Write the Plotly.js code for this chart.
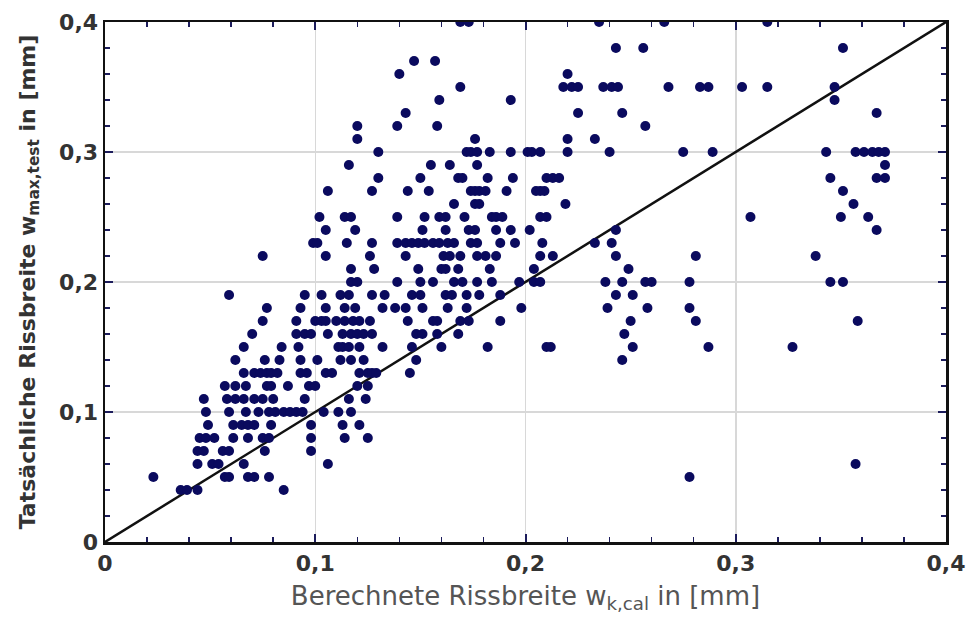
<!DOCTYPE html>
<html>
<head>
<meta charset="utf-8">
<script src="https://cdn.plot.ly/plotly-3.0.1.min.js"></script>
<style>html,body{margin:0;padding:0;background:#fff;}#chart{width:966px;height:625px;}</style>
</head>
<body>
<div id="chart"></div>
<script>
// measured crack width levels (w_max,test, mm) and calculated widths (w_k,cal, mm) at each level
const wLevels = [0.40,0.38,0.37,0.36,0.35,0.34,0.33,0.32,0.31,0.30,0.29,0.28,0.27,0.26,0.25,0.24,0.23,0.22,0.21,0.20,0.19,0.18,0.17,0.16,0.15,0.14,0.13,0.12,0.11,0.10,0.09,0.08,0.07,0.06,0.05,0.04];
const xCal = [
  [0.169,0.173,0.235,0.266,0.315],
  [0.243,0.256,0.351],
  [0.147,0.157],
  [0.140,0.220],
  [0.169,0.218,0.222,0.225,0.237,0.241,0.244,0.268,0.283,0.287,0.303,0.315,0.347],
  [0.159,0.193,0.347],
  [0.143,0.225,0.246,0.367],
  [0.120,0.139,0.158,0.257],
  [0.120,0.176,0.220,0.233],
  [0.130,0.172,0.174,0.177,0.183,0.193,0.201,0.203,0.207,0.220,0.240,0.275,0.289,0.343,0.357,0.361,0.365,0.368,0.371],
  [0.116,0.155,0.164,0.177,0.371],
  [0.130,0.150,0.168,0.170,0.182,0.194,0.210,0.213,0.216,0.345,0.367,0.371],
  [0.106,0.127,0.144,0.154,0.174,0.176,0.178,0.181,0.191,0.205,0.207,0.209,0.351],
  [0.166,0.176,0.178,0.219,0.356],
  [0.102,0.114,0.117,0.139,0.152,0.159,0.162,0.171,0.184,0.186,0.189,0.207,0.210,0.307,0.350,0.363],
  [0.105,0.119,0.151,0.162,0.173,0.176,0.186,0.193,0.202,0.243,0.367],
  [0.099,0.101,0.115,0.127,0.139,0.143,0.146,0.149,0.152,0.156,0.159,0.163,0.166,0.174,0.177,0.188,0.195,0.208,0.233,0.241],
  [0.075,0.105,0.126,0.143,0.161,0.164,0.169,0.177,0.181,0.186,0.207,0.213,0.243,0.281,0.338],
  [0.117,0.128,0.149,0.160,0.162,0.168,0.183,0.204,0.249],
  [0.117,0.120,0.139,0.150,0.156,0.166,0.170,0.177,0.184,0.197,0.204,0.207,0.238,0.246,0.257,0.260,0.278,0.345,0.351],
  [0.059,0.095,0.103,0.112,0.116,0.127,0.133,0.146,0.150,0.162,0.165,0.172,0.178,0.188,0.243,0.251],
  [0.077,0.093,0.105,0.114,0.119,0.132,0.138,0.143,0.151,0.163,0.172,0.198,0.239,0.258,0.278],
  [0.075,0.091,0.100,0.103,0.105,0.110,0.114,0.118,0.121,0.126,0.144,0.156,0.158,0.169,0.173,0.188,0.250,0.281,0.358],
  [0.070,0.091,0.095,0.098,0.106,0.113,0.117,0.120,0.123,0.127,0.148,0.151,0.158,0.168,0.247],
  [0.066,0.084,0.092,0.111,0.113,0.116,0.121,0.132,0.146,0.160,0.182,0.210,0.212,0.251,0.287,0.327],
  [0.062,0.076,0.083,0.093,0.101,0.112,0.117,0.123,0.148,0.246],
  [0.066,0.071,0.074,0.077,0.079,0.082,0.093,0.096,0.105,0.108,0.121,0.125,0.127,0.129,0.145],
  [0.057,0.062,0.067,0.077,0.079,0.087,0.097,0.100,0.120,0.125],
  [0.047,0.058,0.062,0.066,0.071,0.075,0.080,0.095,0.116,0.124],
  [0.048,0.059,0.067,0.073,0.078,0.081,0.085,0.088,0.091,0.094,0.104,0.111,0.117],
  [0.049,0.061,0.065,0.068,0.071,0.079,0.098,0.113,0.121],
  [0.045,0.048,0.052,0.061,0.068,0.075,0.078,0.098,0.114,0.125],
  [0.044,0.047,0.056,0.059,0.076,0.098],
  [0.044,0.051,0.054,0.066,0.106,0.357],
  [0.023,0.057,0.059,0.068,0.071,0.078,0.278],
  [0.036,0.039,0.044,0.085]
];
const refLineX = [0, 0.4];
const refLineY = [0, 0.4];
const tickVals = [0, 0.1, 0.2, 0.3, 0.4];
const tickText = ['0', '0,1', '0,2', '0,3', '0,4'];

const px = [], py = [];
wLevels.forEach((w, i) => { xCal[i].forEach(x => { px.push(x); py.push(w); }); });

const axisCommon = {
  range: [0, 0.4],
  tickvals: tickVals,
  ticktext: tickText,
  ticks: 'inside',
  ticklen: 8,
  tickwidth: 2,
  tickcolor: '#1c1c5c',
  showline: true,
  linecolor: '#111',
  linewidth: 2.5,
  mirror: 'ticks',
  showgrid: true,
  gridcolor: '#d8d8d8',
  gridwidth: 1.5,
  zeroline: false,
  tickfont: {family: 'DejaVu Sans, sans-serif', size: 22, color: '#333', weight: 'bold'},
  minor: {dtick: 0.02, ticks: 'inside', ticklen: 5, tickwidth: 1.5, tickcolor: '#1c1c5c', showgrid: false},
  fixedrange: true
};

const data = [
  {x: refLineX, y: refLineY, mode: 'lines', type: 'scatter', line: {color: '#111', width: 2.5}, hoverinfo: 'skip', showlegend: false},
  {x: px, y: py, mode: 'markers', type: 'scatter', marker: {color: '#0a0a5e', size: 10}, showlegend: false}
];

const layout = {
  width: 966, height: 625,
  margin: {l: 105, r: 20, t: 22, b: 83},
  paper_bgcolor: '#fff', plot_bgcolor: '#fff',
  xaxis: Object.assign({}, axisCommon, {
    title: {text: 'Berechnete Rissbreite w<sub>k,cal</sub> in [mm]', font: {family: 'DejaVu Sans, sans-serif', size: 26, color: '#555'}, standoff: 12}
  }),
  yaxis: Object.assign({}, axisCommon, {
    title: {text: 'Tatsächliche Rissbreite w<sub>max,test</sub> in [mm]', font: {family: 'DejaVu Sans, sans-serif', size: 22, color: '#333', weight: 'bold'}, standoff: 18}
  })
};

Plotly.newPlot('chart', data, layout, {displayModeBar: false, staticPlot: true});
</script>
</body>
</html>
